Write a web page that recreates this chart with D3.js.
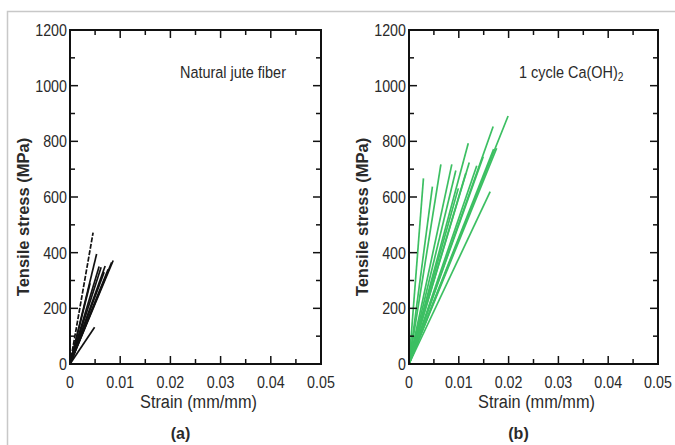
<!DOCTYPE html>
<html>
<head>
<meta charset="utf-8">
<script src="https://cdn.jsdelivr.net/npm/d3@7"></script>
<style>
    body { margin: 0; background: #fff; }
    svg text { font-family: "Liberation Sans", Arial, sans-serif; fill: #2a2a2a; }
</style>
</head>
<body>
<svg id="chart" width="675" height="445"></svg>
<script>
// tick values
const xTicks = [0, 0.01, 0.02, 0.03, 0.04, 0.05];
const xMinorTicks = [0.005, 0.015, 0.025, 0.035, 0.045];
const yTicks = [0, 200, 400, 600, 800, 1000, 1200];
const yMinorTicks = [100, 300, 500, 700, 900, 1100];

// (a) natural jute fiber: end points [strain, stress] of each specimen, start at origin
const juteStrain = [0.0046, 0.0053, 0.0058, 0.0062, 0.0070, 0.0076, 0.0083, 0.0086, 0.0049, 0.0040, 0.0068, 0.0012];
const juteStress = [472, 395, 350, 348, 352, 340, 365, 372, 132, 290, 330, 60];

// (b) 1 cycle Ca(OH)2
const caStrain = [0.0029, 0.0047, 0.0064, 0.0086, 0.0094, 0.0119, 0.0121, 0.0136, 0.0114, 0.0169, 0.0176, 0.0170, 0.0199, 0.0163, 0.0099, 0.0149];
const caStress = [667, 637, 717, 717, 695, 793, 724, 712, 685, 853, 775, 772, 891, 619, 631, 745];

const svg = d3.select("#chart");

// frame round the figure
svg.append("path")
    .attr("d", "M7.5,445 V11.5 H675")
    .attr("fill", "none")
    .attr("stroke", "#c8c8c8")
    .attr("stroke-width", 1.5);

// narrow text, like the original's condensed font
function narrowText(parent, x, y, size, anchor, str, sx = 0.84, rot = 0) {
    return parent.append("text")
        .attr("transform", `translate(${x},${y}) rotate(${rot}) scale(${sx},1)`)
        .attr("text-anchor", anchor)
        .attr("font-size", size)
        .html(str);
}

function drawPanel(left, right, strain, stress, color, title, tag, dashed) {
    const top = 30, bottom = 364;
    const x = d3.scaleLinear().domain([0, 0.05]).range([left, right]);
    const y = d3.scaleLinear().domain([0, 1200]).range([bottom, top]);
    const g = svg.append("g");

    // specimens
    strain.forEach((s, i) => {
        g.append("line")
            .attr("x1", x(0)).attr("y1", y(0))
            .attr("x2", x(s)).attr("y2", y(stress[i]))
            .attr("stroke", color)
            .attr("stroke-width", 1.7)
            .attr("stroke-dasharray", dashed === i ? "5,1.5" : null);
    });

    // inward ticks on all four sides
    const major = 8, minor = 5;
    xTicks.concat(xMinorTicks).forEach(t => {
        const len = xTicks.includes(t) ? major : minor;
        g.append("line").attr("x1", x(t)).attr("x2", x(t)).attr("y1", bottom).attr("y2", bottom - len)
            .attr("stroke", "#111").attr("stroke-width", 1.5);
        g.append("line").attr("x1", x(t)).attr("x2", x(t)).attr("y1", top).attr("y2", top + len)
            .attr("stroke", "#111").attr("stroke-width", 1.5);
    });
    yTicks.concat(yMinorTicks).forEach(t => {
        const len = yTicks.includes(t) ? major : minor;
        g.append("line").attr("x1", left).attr("x2", left + len).attr("y1", y(t)).attr("y2", y(t))
            .attr("stroke", "#111").attr("stroke-width", 1.5);
        g.append("line").attr("x1", right).attr("x2", right - len).attr("y1", y(t)).attr("y2", y(t))
            .attr("stroke", "#111").attr("stroke-width", 1.5);
    });

    g.append("rect")
        .attr("x", left).attr("y", top)
        .attr("width", right - left).attr("height", bottom - top)
        .attr("fill", "none")
        .attr("stroke", "#111")
        .attr("stroke-width", 2);

    // tick labels
    xTicks.forEach(d => {
        narrowText(g, x(d), bottom + 24, 17, "middle", d === 0 ? "0" : d3.format(".2f")(d));
    });
    yTicks.forEach(d => {
        narrowText(g, left - 3, y(d) + 6, 17, "end", String(d));
    });

    // axis titles
    narrowText(g, (left + right) / 2 + 3, bottom + 44, 19, "middle", "Strain (mm/mm)", 0.86);
    g.append("text")
        .attr("transform", `translate(${left - 41},${(top + bottom) / 2 + 20}) rotate(-90)`)
        .attr("text-anchor", "middle")
        .attr("font-size", 16.5)
        .attr("font-weight", "bold")
        .text("Tensile stress (MPa)");

    // panel title and tag
    narrowText(g, left + 110, 78, 17, "start", title, 0.85);
    g.append("text")
        .attr("x", (left + right) / 2 - 15).attr("y", 439)
        .attr("text-anchor", "middle")
        .attr("font-size", 16)
        .attr("font-weight", "bold")
        .text(tag);
}

drawPanel(70, 321, juteStrain, juteStress, "#111", "Natural jute fiber", "(a)", 0);
drawPanel(409, 658, caStrain, caStress, "#3cbf62",
    '1 cycle Ca(OH)<tspan font-size="12" dy="3">2</tspan>', "(b)", -1);
</script>
</body>
</html>
